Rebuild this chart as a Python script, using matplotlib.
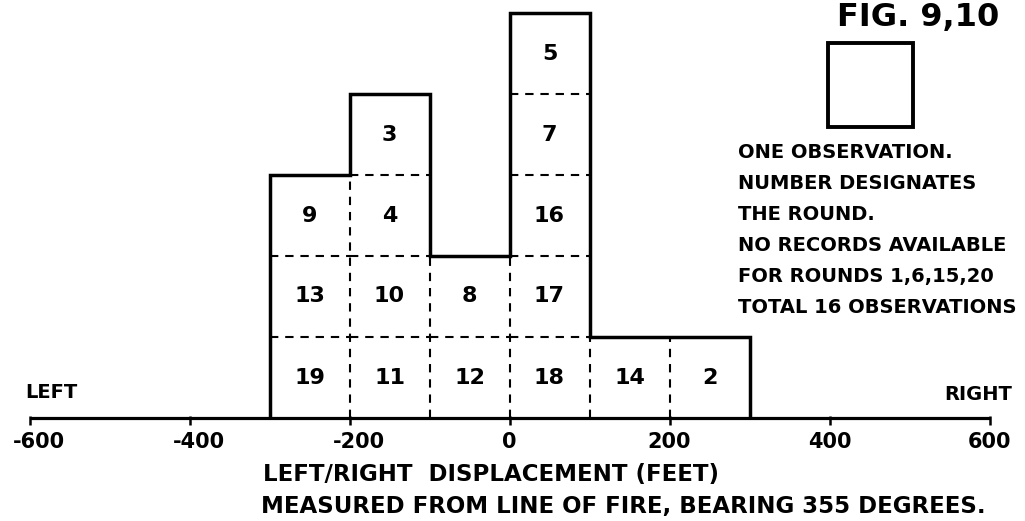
import matplotlib
matplotlib.use('Agg')
import matplotlib.pyplot as plt
from matplotlib.patches import Rectangle

# ---------------- data ----------------
bin_edges = [-300, -200, -100, 0, 100, 200, 300]
rounds_per_bin = [
    [19, 13, 9],
    [11, 10, 4, 3],
    [12, 8],
    [18, 17, 16, 7, 5],
    [14],
    [2],
]
tick_values = [-600, -400, -200, 0, 200, 400, 600]
tick_labels = ['-600', '-400', '-200', '0', '200', '400', '600']
side_left = 'LEFT'
side_right = 'RIGHT'
x_label = 'LEFT/RIGHT  DISPLACEMENT (FEET)'
x_sub = 'MEASURED FROM LINE OF FIRE, BEARING 355 DEGREES.'
title = 'FIG. 9,10'
legend_lines = ['ONE OBSERVATION.', 'NUMBER DESIGNATES', 'THE ROUND.',
                'NO RECORDS AVAILABLE', 'FOR ROUNDS 1,6,15,20',
                'TOTAL 16 OBSERVATIONS']

# ---------------- layout ----------------
W, H = 1025, 521
plt.rcParams['font.family'] = ['DejaVu Sans']
fig = plt.figure(figsize=(W / 100, H / 100), dpi=100)
ax = fig.add_axes([0, 0, 1, 1])
x0px, sx = 509.5, 0.8          # pixel of x=0, pixels per foot
axis_px, box_px = 418, 81      # pixel row of the axis, box height in px
ax.set_xlim(-x0px / sx, (W - x0px) / sx)
ax.set_ylim(-(H - axis_px) / box_px, axis_px / box_px)
ax.axis('off')


def ftext(xp, yp, s, **kw):
    fig.text(xp / W, 1 - yp / H, s, transform=fig.transFigure, **kw)


counts = [len(r) for r in rounds_per_bin]
dash = (0, (4, 3.3))

for i, rs in enumerate(rounds_per_bin):
    l, r = bin_edges[i], bin_edges[i + 1]
    if len(rs) > 1:
        ax.hlines(list(range(1, len(rs))), l, r, colors='black', lw=1.5,
                  linestyles=dash)
    for k, rn in enumerate(rs):
        ax.text((l + r) / 2, k + 0.5, str(rn), ha='center', va='center',
                fontsize=16, fontweight='bold', color='black')

for i in range(1, len(counts)):
    h = min(counts[i - 1], counts[i])
    ax.vlines(bin_edges[i], 0, h, colors='black', lw=1.5, linestyles=dash)

ax.stairs(counts, bin_edges, baseline=0, color='black', lw=2.5)

# axis line and ticks
ax.hlines(0, tick_values[0], tick_values[-1], colors='black', lw=2.3)
ax.vlines(tick_values, -0.085, 0.03, colors='black', lw=1.8)
for t, lab in zip(tick_values, tick_labels):
    shift = 12 if t < 0 else 0
    ax.text(t + shift, -(448 - axis_px) / box_px, lab, ha='center',
            va='baseline', fontsize=15, fontweight='bold')

# side labels
ftext(25, 398, side_left, ha='left', va='baseline', fontsize=14, fontweight='bold')
ftext(1012, 400, side_right, ha='right', va='baseline', fontsize=14, fontweight='bold')

# axis titles
ftext(491, 481, x_label, ha='center', va='baseline', fontsize=16.5, fontweight='bold')
ftext(623, 513, x_sub, ha='center', va='baseline', fontsize=16.5, fontweight='bold')

# legend block
ftext(837, 26, title, ha='left', va='baseline', fontsize=23, fontweight='bold')
fig.add_artist(Rectangle((828 / W, 1 - 127 / H), 85 / W, 84 / H,
                         transform=fig.transFigure, fill=False,
                         edgecolor='black', lw=2.8))
for j, line in enumerate(legend_lines):
    ftext(738, 158 + 31 * j, line, ha='left', va='baseline', fontsize=14,
          fontweight='bold')

fig.savefig('out.png', dpi=100)
